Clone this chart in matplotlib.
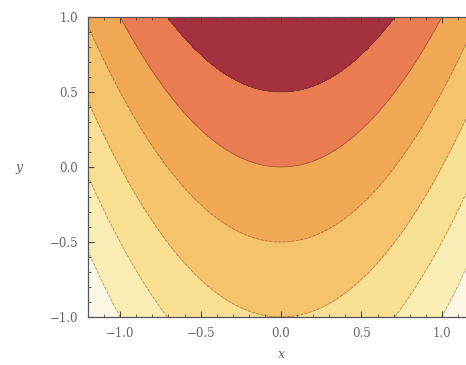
import numpy as np
import matplotlib
matplotlib.use('Agg')
import matplotlib.pyplot as plt
from matplotlib.ticker import MultipleLocator

# contour levels of f(x, y) = y - x^2 and the fill colours between them
levels = [-3.0, -2.0, -1.5, -1.0, -0.5, 0.0, 0.5, 2.5]
fill_colors = ['#FCF7E4', '#FAEDB4', '#F8DF92', '#F4C36B', '#F0A854', '#E97C51', '#A5313F']
line_levels = [-2.0, -1.5, -1.0, -0.5, 0.0, 0.5]
x_ticks = [-1.0, -0.5, 0.0, 0.5, 1.0]
y_ticks = [-1.0, -0.5, 0.0, 0.5, 1.0]

x = np.linspace(-1.2, 1.2, 400)
y = np.linspace(-1.0, 1.0, 400)
X, Y = np.meshgrid(x, y)
Z = Y - X**2

fig = plt.figure(figsize=(4.66, 3.65), dpi=100)
ax = fig.add_axes([88/466, 48/365, 386/466, 300/365])

ax.contourf(X, Y, Z, levels=levels, colors=fill_colors)
ax.contour(X, Y, Z, levels=line_levels, colors='#5a3020', linewidths=0.6, alpha=0.45)

ax.set_xlim(-1.2, 1.2)
ax.set_ylim(-1.0, 1.0)
ax.set_xticks(x_ticks)
ax.set_yticks(y_ticks)
lab_font = {'family': 'DejaVu Serif', 'size': 8.5, 'color': '#666666'}
ax.set_xticklabels(['\u22121.0', '\u22120.5', '0.0', '0.5', '1.0'], fontdict=lab_font)
ax.set_yticklabels(['\u22121.0', '\u22120.5', '0.0', '0.5', '1.0'], fontdict=lab_font)
ax.xaxis.set_minor_locator(MultipleLocator(0.1))
ax.yaxis.set_minor_locator(MultipleLocator(0.1))
ax.tick_params(which='both', direction='in', top=True, right=True, color='#444444')
ax.tick_params(which='major', length=4, width=0.8, pad=7)
ax.tick_params(which='minor', length=2, width=0.6)
for s in ax.spines.values():
    s.set_color('#555555')
    s.set_linewidth(0.9)

ax.set_xlabel('x', fontdict={'family': 'DejaVu Serif', 'style': 'italic', 'size': 9, 'color': '#666666'}, labelpad=6)
ax.set_ylabel('y', fontdict={'family': 'DejaVu Serif', 'style': 'italic', 'size': 9, 'color': '#666666'},
              rotation=0, labelpad=22, va='center')

fig.savefig('out.png', dpi=100)
